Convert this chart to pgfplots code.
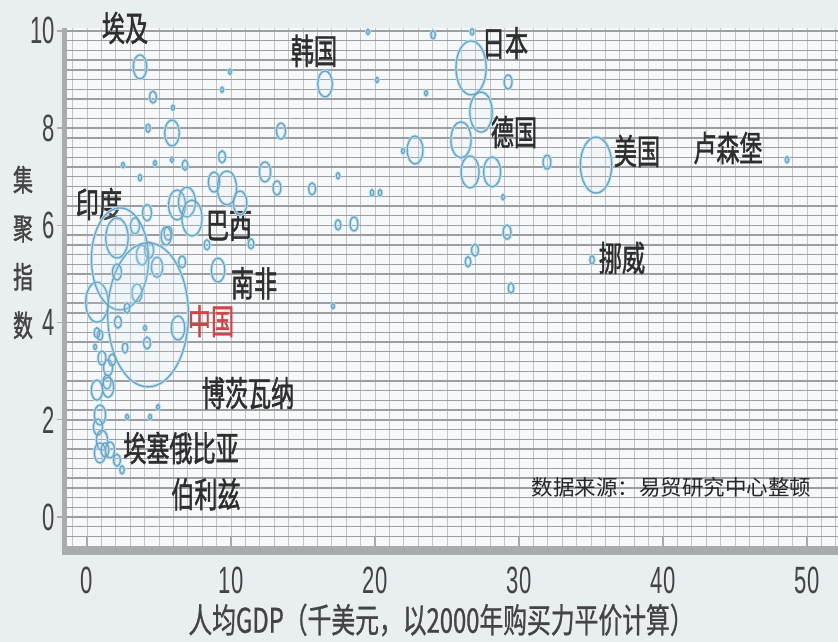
\documentclass[border=0pt]{standalone}
\usepackage{fontspec}
\usepackage{pgfplots}
\usepackage{pgfplotstable}
\pgfplotsset{compat=1.18}
\setmainfont{Liberation Sans}
\newfontfamily\cjk[FakeStretch=0.66, FakeBold=1.2]{Noto Sans CJK SC}
\newfontfamily\cjkx[FakeStretch=0.70, FakeBold=0.8]{Noto Sans CJK SC}
\newfontfamily\cjkn{Noto Sans CJK SC}
\newfontfamily\tickf[FakeStretch=0.58]{Liberation Sans}

\definecolor{bgc}{HTML}{E9EEF1}
\definecolor{plotbg}{HTML}{F6F8F9}
\definecolor{hgrid}{HTML}{9C9FA2}
\definecolor{vgrid}{HTML}{C0C4C7}
\definecolor{barc}{HTML}{A9ACAE}
\definecolor{bubline}{HTML}{6FA0BE}
\definecolor{bubglow}{HTML}{B4E0F4}
\definecolor{bubfill}{HTML}{D6EEF9}
\definecolor{labc}{HTML}{2E2E2E}
\definecolor{tickc}{HTML}{444444}
\definecolor{cnred}{HTML}{D0454A}

\tikzset{lab/.style={font=\cjk\fontsize{35}{35}\selectfont, text=labc, inner sep=0pt}}

% x: GDP per head (k USD), y: index, r: bubble half-height in pt
\pgfplotstableread{
x y r
3.68 9.26 12
4.58 8.64 6
4.24 8.00 4
5.90 7.90 13
5.97 8.42 2.5
9.93 9.16 2.5
9.38 8.79 2.5
16.53 8.91 13
13.47 7.94 8
19.51 9.98 2.5
20.14 8.99 2.5
2.50 7.24 2.5
4.72 7.28 2.5
5.90 7.35 2.5
6.81 7.24 5
3.68 6.98 3
9.38 7.41 6
8.82 6.89 10
9.72 6.77 17
10.63 6.46 12
12.36 7.10 10
13.19 6.77 7
15.63 6.75 6
17.43 7.02 3
19.79 6.67 3
20.35 6.67 3
17.43 6.01 5
18.54 6.03 7
22.78 7.55 14
21.94 7.53 2.5
6.25 6.42 15
6.94 6.48 15
7.29 6.15 18
5.63 5.84 7
4.17 6.26 8
3.33 5.99 8
5.49 5.78 9
3.82 5.39 10
4.86 5.14 10
4.31 5.49 8
6.60 5.25 6
8.33 5.60 5
9.10 5.08 12
11.39 5.62 5
3.47 4.61 9
0.69 4.42 20
17.08 4.34 2.5
24.03 9.92 4
26.74 9.98 3
26.67 9.24 27
29.24 8.95 7
23.54 8.72 2.5
27.36 8.33 20
25.97 7.76 18
26.60 7.10 16
28.13 7.10 15
31.94 7.30 7
28.89 6.58 2.5
29.17 5.86 7
26.94 5.49 6
26.46 5.25 5
29.44 4.71 5
35.35 7.24 28
35.07 5.29 4
48.61 7.35 3
2.29 5.31 51
4.24 4.16 72
2.08 5.74 20
2.08 5.04 8
2.78 4.30 5
0.90 3.74 5
2.15 4.01 6
2.64 3.48 5
4.17 3.58 6
4.03 3.89 2.5
6.32 3.89 12
1.04 3.27 7
1.46 3.07 8
1.39 2.78 7
0.69 2.61 10
1.46 2.67 10
1.74 3.23 6
0.90 2.10 10
0.76 1.85 8
1.04 1.58 10
0.90 1.32 10
1.60 1.38 8
2.08 1.17 6
2.43 0.97 4
1.25 1.38 7
4.93 2.26 2.5
2.78 2.06 2.5
4.38 2.06 2.5
0.56 3.50 2.5
0.69 3.79 5
}\bubbles

\begin{document}
\begin{tikzpicture}
\path[use as bounding box, fill=bgc] (0,0) rectangle (838pt,642pt);
\begin{axis}[
  at={(67pt,96pt)}, anchor=south west,
  scale only axis, width=771pt, height=518pt,
  xmin=-1.39, xmax=52.15, ymin=-0.595, ymax=10.06,
  clip=false,
  axis line style={draw=none},
  axis background/.style={fill=plotbg},
  xtick={0,10,...,50}, ytick={0,2,...,10},
  minor xtick={-1,0,...,52},
  minor ytick={-0.4,-0.2,...,10},
  grid=both,
  every axis grid/.style={},
  x grid style={vgrid, line width=0.9pt},
  y grid style={hgrid, line width=1.4pt},
  major tick length=0pt, minor tick length=0pt,
  /pgf/number format/assume math mode=true,
  ticklabel style={font=\tickf\fontsize{38}{38}\selectfont, text=tickc},
  yticklabel style={anchor=east, inner sep=0pt, xshift=-12pt},
  xticklabel style={anchor=north, inner sep=0pt, yshift=-21pt},
]
% glow pass
\addplot[scatter, only marks, mark=o,
  scatter/use mapped color={draw=bubglow},
  visualization depends on={\thisrow{r} \as \rr},
  scatter/@pre marker code/.append style={/tikz/mark size=\rr},
  mark options={xscale=0.56, line width=3pt}]
  table[x=x, y=y] {\bubbles};
% outline pass
\addplot[scatter, only marks, mark=*,
  scatter/use mapped color={draw=bubline, fill=bubfill},
  visualization depends on={\thisrow{r} \as \rr},
  scatter/@pre marker code/.append style={/tikz/mark size=\rr},
  mark options={xscale=0.56, line width=1.2pt, fill opacity=0.12}]
  table[x=x, y=y] {\bubbles};

% frame bars and ticks
\draw[barc, line width=9pt] ([xshift=-5pt, yshift=-4.5pt]rel axis cs:0,0) -- ([yshift=-4.5pt]rel axis cs:1,0);
\draw[barc, line width=5pt] ([xshift=-2.5pt]rel axis cs:0,1) -- ([xshift=-2.5pt, yshift=-9pt]rel axis cs:0,0);
\pgfplotsinvokeforeach{0,10,20,30,40,50}{
  \draw[barc, line width=1.3pt] (axis cs:#1,-0.595) -- ++(0pt,9pt);
}
\pgfplotsinvokeforeach{0,2,4,6,8,10}{
  \draw[barc, line width=1.3pt] (axis cs:-1.39,#1) ++(-10pt,0pt) -- ++(5pt,0pt);
}

% country labels
\node[lab] at (axis cs:2.64,10.06) {埃及};
\node[lab] at (axis cs:15.76,9.59) {韩国};
\node[lab] at (axis cs:29.03,9.75) {日本};
\node[lab] at (axis cs:29.65,7.92) {德国};
\node[lab] at (axis cs:38.19,7.53) {美国};
\node[lab] at (axis cs:44.51,7.59) {卢森堡};
\node[lab] at (axis cs:37.15,5.33) {挪威};
\node[lab] at (axis cs:0.83,6.44) {印度};
\node[lab] at (axis cs:9.86,5.99) {巴西};
\node[lab] at (axis cs:11.6,4.81) {南非};
\node[lab, text=cnred] at (axis cs:8.61,4.03) {中国};
\node[lab] at (axis cs:11.18,2.55) {博茨瓦纳};
\node[lab] at (axis cs:6.53,1.42) {埃塞俄比亚};
\node[lab] at (axis cs:8.26,0.47) {伯利兹};
\node[font=\cjkn\fontsize{21.5}{21.5}\selectfont, text=black!85, inner sep=0pt]
  at (axis cs:40.6,0.62) {数据来源：易贸研究中心整顿};
\end{axis}
% axis titles
\node[font=\cjkx\fontsize{34}{34}\selectfont, text=tickc, inner sep=0pt]
  at (441pt,22pt) {人均GDP（千美元，以2000年购买力平价计算）};
\node[font=\cjk\fontsize{30}{48.5}\selectfont, text=tickc, inner sep=0pt, align=center]
  at (23pt,389.5pt) {集\\聚\\指\\数};
\end{tikzpicture}
\end{document}
